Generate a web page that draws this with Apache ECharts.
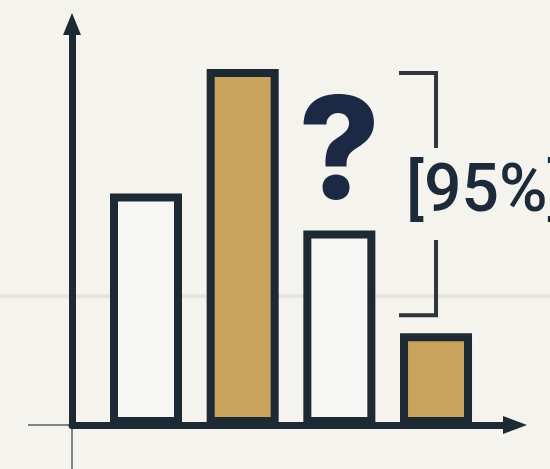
<!DOCTYPE html>
<html>
<head>
<meta charset="utf-8">
<script src="https://cdn.jsdelivr.net/npm/echarts@6/dist/echarts.min.js"></script>
<style>
  html, body { margin: 0; padding: 0; background: #f4f3ee; }
  #chart { width: 550px; height: 469px; }
</style>
</head>
<body>
<div id="chart"></div>
<script>
// Bar heights (same arbitrary scale as the y axis, 0-100)
const barValues = [57.7, 88.8, 48.5, 22.9];
// Which bars are filled with the accent colour
const barAccent = [false, true, false, true];
// Bar whose value is marked as unknown
const unknownIndex = 2;
const unknownLabel = '?';
// Interval bracket: [bar index, low, high] and its caption
const intervalData = [[3, 27.4, 87.8]];
const intervalLabel = '[95%]';
// Faint reference level behind the bars
const guideLevel = 32.1;

const INK = '#1d2a33';
const GOLD = '#c9a25c';
const PAPER = '#f7f8f6';
const BG = '#f4f3ee';

const chart = echarts.init(document.getElementById('chart'), null, { renderer: 'canvas' });

const barData = barValues.map((v, i) => {
  const item = {
    value: [i, v],
    itemStyle: { color: barAccent[i] ? GOLD : PAPER }
  };
  if (i === unknownIndex) {
    item.label = {
      show: true,
      position: 'top',
      distance: 3,
      formatter: unknownLabel,
      color: '#1b2945',
      fontFamily: 'Inter',
      fontWeight: 800,
      fontSize: 142
    };
  }
  return item;
});

function renderBracket(params, api) {
  const top = api.coord([api.value(0), api.value(2)]);
  const bottom = api.coord([api.value(0), api.value(1)]);
  const x = top[0];
  const arm = 37;
  const midY = (top[1] + bottom[1]) / 2;
  const lineStyle = { stroke: '#30363b', lineWidth: 4, fill: null };
  return {
    type: 'group',
    children: [
      {
        type: 'polyline',
        shape: { points: [[x - arm, top[1]], [x, top[1]], [x, bottom[1]], [x - arm, bottom[1]]] },
        style: lineStyle
      },
      {
        type: 'text',
        x: x - 36,
        y: midY,
        style: {
          text: intervalLabel,
          fill: '#1d2a3a',
          font: '500 66px Roboto',
          align: 'left',
          verticalAlign: 'middle',
          backgroundColor: BG,
          padding: [13, 4, 13, 6]
        }
      }
    ]
  };
}

chart.setOption({
  backgroundColor: BG,
  animation: false,
  grid: { left: 72, right: 35, top: 24, bottom: 44 },
  xAxis: {
    type: 'value',
    min: -0.7655,
    max: 3.817,
    axisLine: {
      show: true,
      onZero: false,
      lineStyle: { color: INK, width: 7 },
      symbol: ['none', 'triangle'],
      symbolSize: [18, 24]
    },
    axisTick: { show: false },
    axisLabel: { show: false },
    splitLine: { show: false }
  },
  yAxis: {
    type: 'value',
    min: 0,
    max: 100,
    axisLine: {
      show: true,
      onZero: false,
      lineStyle: { color: INK, width: 7 },
      symbol: ['none', 'triangle'],
      symbolSize: [18, 22]
    },
    axisTick: { show: false },
    axisLabel: { show: false },
    splitLine: { show: false }
  },
  series: [
    {
      type: 'bar',
      barWidth: 72,
      data: barData,
      itemStyle: { borderColor: INK, borderWidth: 8 },
      z: 3
    },
    {
      type: 'custom',
      renderItem: renderBracket,
      data: intervalData,
      encode: { x: 0, y: [1, 2] },
      z: 4
    }
  ]
});

// Decorative guide line and thin axis extensions, placed from the axes' own scale
const origin = chart.convertToPixel({ gridIndex: 0 }, [-0.7655, 0]);
const guideY = chart.convertToPixel({ gridIndex: 0 }, [0, guideLevel])[1];
chart.setOption({
  graphic: [
    {
      type: 'line', z: 0,
      shape: { x1: 0, y1: guideY, x2: 550, y2: guideY },
      style: { stroke: '#e6e4de', lineWidth: 4 }
    },
    {
      type: 'line', z: 0,
      shape: { x1: 28, y1: origin[1], x2: origin[0], y2: origin[1] },
      style: { stroke: '#7d848a', lineWidth: 2 }
    },
    {
      type: 'line', z: 0,
      shape: { x1: origin[0], y1: origin[1], x2: origin[0], y2: 469 },
      style: { stroke: '#7d848a', lineWidth: 2 }
    }
  ]
});
</script>
</body>
</html>
